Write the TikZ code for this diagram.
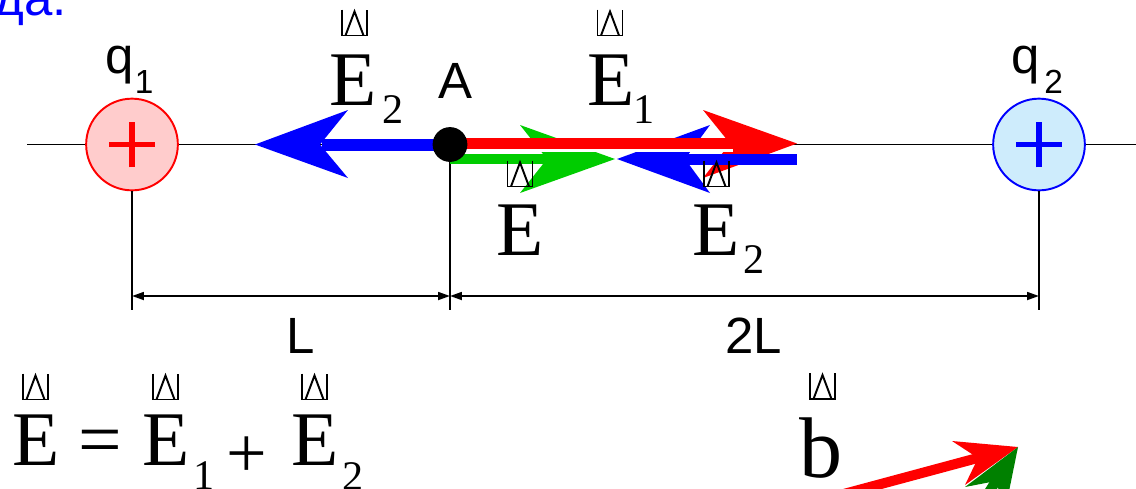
\documentclass[tikz,border=0pt]{standalone}
\usepackage{fontspec}
\setmainfont{Liberation Serif}
\newfontfamily\sansf{Liberation Sans}
\usetikzlibrary{arrows.meta}
\definecolor{vred}{RGB}{255,0,0}
\definecolor{vgreen}{RGB}{0,204,0}
\definecolor{vblue}{RGB}{0,0,255}
\definecolor{dgreen}{RGB}{0,128,0}
\definecolor{pinkfill}{RGB}{255,204,204}
\definecolor{bluefill}{RGB}{206,236,252}
\begin{document}
\begin{tikzpicture}[x=0.02cm,y=-0.02cm,
  big/.style={inner sep=0pt, anchor=base west, font=\fontsize{44}{50}\selectfont},
  sub/.style={inner sep=0pt, anchor=base west, font=\fontsize{24}{28}\selectfont},
  lab/.style={inner sep=0pt, anchor=base west, font=\sansf\fontsize{29}{34}\selectfont},
  lsub/.style={inner sep=0pt, anchor=base west, font=\sansf\fontsize{19}{22}\selectfont},
  thinline/.style={line width=1.1pt},
  dimline/.style={line width=1.1pt, {Triangle[length=6.8pt,width=4.5pt]}-{Triangle[length=6.8pt,width=4.5pt]}},
  charge/.style={circle, line width=1.1pt, minimum size=52.2pt, inner sep=0pt},
  plusbar/.style={line width=3.4pt},
  vacc/.pic={\draw[line width=1.1pt] (-12.5,-13) -- (-12.5,13) -- (12.5,13) -- (12.5,-13);
             \draw[line width=1.1pt] (-9,13) -- (0,-11) -- (9,13);}
]
\useasboundingbox (0,0) rectangle (1136,488);
\clip (0,0) rectangle (1136,488);

% blue text (cut off)
\node[inner sep=0pt, anchor=base east, text=vblue, font=\sansf\fontsize{29}{34}\selectfont] (txt) at (67,15) {да.};

% axis
\coordinate (axl) at (27,144.5);
\coordinate (axr) at (1140,144.5);
\draw[thinline] (axl) -- (axr);

% charges
\node[charge, draw=vred, fill=pinkfill] (q1) at (132,144.5) {};
\node[charge, draw=vblue, fill=bluefill] (q2) at (1039,144.5) {};
\draw[plusbar, vred] ([xshift=-13pt]q1.center) -- ([xshift=13pt]q1.center);
\draw[plusbar, vred] ([yshift=-13pt]q1.center) -- ([yshift=13pt]q1.center);
\draw[plusbar, vblue] ([xshift=-13pt]q2.center) -- ([xshift=13pt]q2.center);
\draw[plusbar, vblue] ([yshift=-13pt]q2.center) -- ([yshift=13pt]q2.center);

% point A
\coordinate (A) at (450,144.5);

% extension lines
\coordinate (q1b) at (132,310);
\coordinate (Ab) at (450,310);
\coordinate (q2b) at (1039,310);
\draw[thinline] (q1.south) -- (q1b);
\draw[thinline] (A) -- (Ab);
\draw[thinline] (q2.south) -- (q2b);

% dimension lines
\coordinate (d1) at (132,296);
\coordinate (dA) at (450,296);
\coordinate (d2) at (1039,296);
\draw[dimline] (d1) -- (dA);
\draw[dimline] (dA) -- (d2);

% red E1 head
\fill[vred] (797,143.5) -- (703,110) -- (730,143.5) -- (703,178) -- cycle;
% green E
\fill[vgreen] (450,153.5) rectangle (550,164);
\fill[vgreen] (615,159) -- (520,125) -- (547,159) -- (520,193) -- cycle;
% blue E2 (right)
\fill[vblue] (685,154) rectangle (797,165);
\fill[vblue] (617,159) -- (710,125) -- (685,159) -- (710,193) -- cycle;
% red E1 shaft
\fill[white] (450,149) rectangle (733,151.5);
\fill[vred] (450,138) rectangle (733,149);
% blue E2 (left)
\fill[vblue] (322,139) rectangle (450,151);
\fill[vblue] (255,144.5) -- (348,110) -- (320,144.5) -- (348,178) -- cycle;

% dot A
\fill[black] (A) circle[radius=9.9pt];

% labels
\node[lab] (qa) at (105,73) {q};
\node[lsub] (qas) at (134.5,93) {1};
\node[lab] (qb) at (1011,73) {q};
\node[lsub] (qbs) at (1044,93) {2};
\node[lab] (Alab) at (438,98) {A};
\node[lab] (Llab) at (286,353) {L};
\node[lab] (LLlab) at (725,353) {2L};

% vector labels
\node[big] (e2t) at (329,105) {E};
\node[sub] (e2ts) at (382,123) {2};
\pic at (354.5,22.5) {vacc};
\node[big] (e1t) at (587,105) {E};
\node[sub] (e1ts) at (633,123) {1};
\pic at (610,22.5) {vacc};
\node[big] (eg) at (496,255) {E};
\pic at (520,173.5) {vacc};
\node[big] (e2l) at (692,255) {E};
\node[sub] (e2ls) at (743,273) {2};
\pic at (716.5,173.5) {vacc};

% formula
\node[big] (fE) at (12,465) {E};
\pic at (35.5,386.5) {vacc};
\node[big] (feq) at (78,465) {=};
\node[big] (fE1) at (142,465) {E};
\node[sub] (fE1s) at (193,489) {1};
\pic at (165.5,386.5) {vacc};
\node[inner sep=0pt, font=\fontsize{41}{46}\selectfont] (fplus) at (247,457) {+};
\node[big] (fE2) at (291,465) {E};
\node[sub] (fE2s) at (342,490) {2};
\pic at (314.5,386.5) {vacc};

% b
\node[inner sep=0pt, anchor=base west, font=\fontsize{49}{56}\selectfont] (bl) at (799,477) {b};
\pic at (822.5,386) {vacc};

% bottom-right arrows
\draw[vred, line width=5.7pt] (840,495) -- (985,456);
\fill[vred] (1018,447) -- (952,441) -- (978,458) -- (965,485) -- cycle;
\draw[dgreen, line width=5.7pt] (996,481) -- (964,532);
\fill[dgreen] (1018,447) -- (965,487) -- (996,481) -- (1005,511) -- cycle;
\end{tikzpicture}
\end{document}
